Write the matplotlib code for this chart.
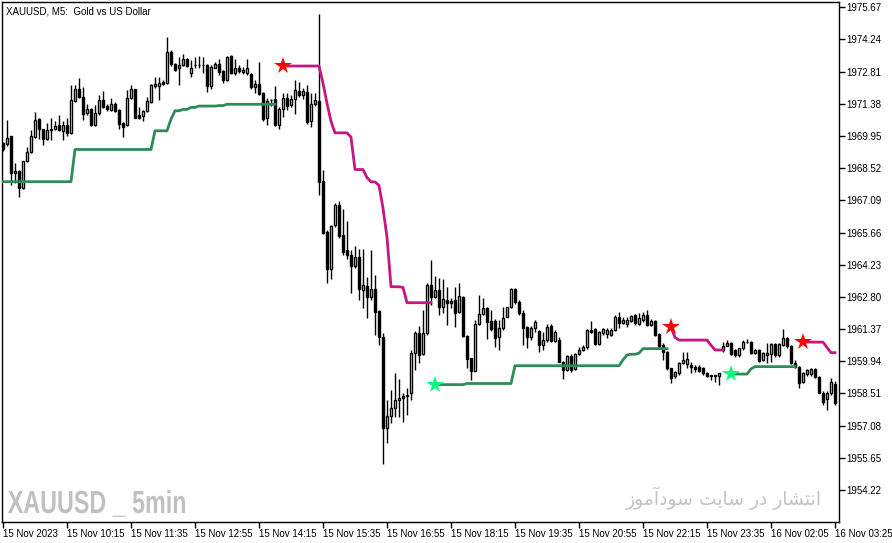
import matplotlib
matplotlib.use("Agg")
import matplotlib.pyplot as plt
import numpy as np
from matplotlib.textpath import TextPath
from matplotlib.patches import PathPatch
from matplotlib.font_manager import FontProperties
from matplotlib.transforms import Affine2D

# candles (5 min bars)
opens = [1969.62, 1969.59, 1969.94, 1968.29, 1968.39, 1967.66, 1968.83, 1969.22, 1969.91, 1970.70,
         1970.24, 1969.80, 1970.21, 1970.28, 1970.43, 1970.18, 1970.46, 1970.09, 1971.51, 1972.03,
         1971.69, 1970.95, 1971.13, 1970.43, 1970.95, 1971.57, 1971.28, 1971.10, 1971.39, 1971.10,
         1970.51, 1970.43, 1971.66, 1972.02, 1970.88, 1970.86, 1971.05, 1971.47, 1972.16, 1972.16,
         1972.36, 1972.31, 1973.69, 1973.14, 1972.95, 1973.10, 1973.35, 1972.73, 1973.10, 1973.10,
         1973.12, 1973.10, 1972.17, 1972.99, 1973.17, 1972.83, 1972.46, 1973.50, 1972.73, 1972.95,
         1972.80, 1972.73, 1972.70, 1972.11, 1972.28, 1971.84, 1970.73, 1971.53, 1971.58, 1970.46,
         1971.17, 1971.62, 1971.32, 1971.58, 1971.96, 1971.77, 1971.91, 1970.63, 1971.35, 1971.51,
         1967.95, 1965.70, 1964.03, 1965.99, 1966.88, 1965.55, 1964.88, 1964.66, 1964.17, 1964.56,
         1963.11, 1963.29, 1962.81, 1963.14, 1962.18, 1961.01, 1956.97, 1957.51, 1957.85, 1958.22,
         1958.30, 1958.40, 1958.55, 1960.30, 1961.21, 1960.25, 1961.18, 1963.33, 1962.81, 1963.10,
         1962.36, 1962.66, 1962.51, 1962.66, 1962.14, 1962.78, 1961.06, 1960.07, 1959.52, 1961.59,
         1962.02, 1962.29, 1961.74, 1961.74, 1961.00, 1961.40, 1961.92, 1962.33, 1963.13, 1962.59,
         1962.10, 1961.45, 1961.00, 1961.40, 1961.30, 1960.66, 1960.88, 1961.52, 1960.84, 1960.89,
         1959.92, 1959.55, 1960.17, 1959.60, 1960.26, 1960.44, 1960.59, 1961.33, 1961.36, 1960.71,
         1961.18, 1961.15, 1961.11, 1961.33, 1961.92, 1961.65, 1961.59, 1961.74, 1961.99, 1961.59,
         1961.77, 1961.99, 1961.55, 1961.74, 1961.15, 1960.66, 1960.37, 1959.62, 1959.28, 1959.40,
         1959.85, 1959.82, 1959.77, 1959.70, 1959.67, 1959.62, 1959.40, 1959.30, 1959.31, 1959.28,
         1960.44, 1960.62, 1960.73, 1960.44, 1960.22, 1960.51, 1960.81, 1960.81, 1960.29, 1960.44,
         1959.99, 1960.22, 1960.26, 1960.71, 1960.22, 1960.66, 1960.96, 1960.62, 1959.85, 1959.70,
         1959.03, 1959.37, 1959.37, 1959.58, 1959.26, 1958.54, 1958.25, 1958.52, 1958.93]
highs = [1969.70, 1970.68, 1969.96, 1968.73, 1968.42, 1968.85, 1969.44, 1970.21, 1971.02, 1970.77,
         1970.28, 1970.51, 1970.77, 1970.62, 1970.90, 1970.62, 1970.73, 1972.21, 1972.21, 1972.53,
         1972.13, 1971.36, 1971.20, 1971.32, 1971.76, 1971.94, 1971.35, 1971.62, 1971.45, 1971.15,
         1970.55, 1971.99, 1972.21, 1972.05, 1971.22, 1971.10, 1971.69, 1972.28, 1972.58, 1972.58,
         1972.45, 1974.35, 1973.76, 1973.20, 1973.47, 1973.58, 1973.40, 1973.32, 1973.47, 1973.50,
         1973.47, 1973.15, 1973.10, 1973.25, 1973.35, 1972.90, 1973.50, 1973.55, 1973.35, 1973.10,
         1973.00, 1973.35, 1972.75, 1972.46, 1973.22, 1971.90, 1971.62, 1971.58, 1972.17, 1971.25,
         1971.84, 1971.87, 1971.77, 1972.46, 1972.36, 1972.10, 1972.21, 1971.84, 1971.84, 1975.36,
         1968.43, 1965.75, 1966.00, 1966.99, 1967.07, 1966.69, 1966.19, 1964.88, 1965.06, 1964.91,
         1964.91, 1963.70, 1964.88, 1963.78, 1962.20, 1961.21, 1958.22, 1958.67, 1959.41, 1959.14,
         1958.52, 1958.74, 1960.44, 1961.30, 1961.51, 1962.22, 1963.40, 1964.44, 1963.73, 1963.62,
         1963.58, 1963.25, 1962.73, 1963.22, 1963.40, 1962.85, 1961.10, 1960.10, 1961.77, 1962.88,
         1962.73, 1962.35, 1962.22, 1961.80, 1961.77, 1962.33, 1962.36, 1963.18, 1963.20, 1962.65,
         1962.22, 1961.50, 1961.50, 1961.77, 1961.35, 1961.25, 1961.60, 1961.60, 1961.35, 1961.00,
         1959.95, 1960.20, 1960.25, 1960.30, 1960.59, 1960.65, 1961.36, 1961.74, 1961.40, 1961.30,
         1961.40, 1961.40, 1961.40, 1961.99, 1962.14, 1961.92, 1961.92, 1962.00, 1962.05, 1962.07,
         1962.14, 1962.20, 1961.80, 1961.77, 1961.20, 1960.76, 1960.40, 1959.65, 1959.50, 1959.92,
         1960.37, 1960.37, 1959.92, 1959.77, 1959.77, 1959.67, 1959.48, 1959.33, 1959.33, 1959.43,
         1960.81, 1960.88, 1960.78, 1960.50, 1960.55, 1960.88, 1960.91, 1960.85, 1960.50, 1960.50,
         1960.35, 1960.73, 1960.73, 1960.75, 1960.75, 1961.36, 1961.00, 1960.65, 1960.00, 1959.75,
         1959.48, 1959.60, 1959.62, 1959.65, 1959.30, 1958.60, 1958.60, 1959.18, 1959.05]
lows = [1969.30, 1969.50, 1967.77, 1967.84, 1967.25, 1967.58, 1968.80, 1969.20, 1969.88, 1969.81,
        1969.55, 1969.75, 1969.77, 1970.20, 1970.15, 1969.77, 1969.94, 1970.05, 1971.45, 1971.65,
        1970.65, 1970.90, 1970.40, 1970.38, 1970.90, 1971.20, 1971.05, 1971.05, 1971.00, 1970.25,
        1969.91, 1970.38, 1971.60, 1970.75, 1970.70, 1970.60, 1971.00, 1971.40, 1972.10, 1971.54,
        1972.20, 1972.28, 1973.05, 1972.85, 1972.21, 1973.05, 1973.00, 1972.58, 1972.95, 1972.95,
        1972.73, 1971.91, 1972.06, 1972.95, 1972.65, 1972.31, 1972.40, 1972.70, 1972.65, 1972.75,
        1972.70, 1972.65, 1972.05, 1971.87, 1971.75, 1970.60, 1970.43, 1971.30, 1970.40, 1970.28,
        1970.80, 1971.10, 1971.25, 1970.92, 1971.70, 1971.60, 1970.50, 1970.36, 1971.30, 1967.33,
        1965.60, 1963.43, 1963.58, 1965.90, 1965.40, 1964.66, 1964.50, 1962.99, 1964.10, 1962.66,
        1962.29, 1961.85, 1962.66, 1961.11, 1960.67, 1955.38, 1956.30, 1957.19, 1957.48, 1957.48,
        1957.26, 1957.56, 1958.22, 1959.56, 1959.85, 1960.20, 1961.10, 1962.44, 1962.75, 1961.99,
        1962.07, 1961.55, 1962.30, 1961.48, 1962.10, 1961.00, 1959.63, 1959.11, 1959.50, 1961.55,
        1962.00, 1960.91, 1961.30, 1960.59, 1960.44, 1961.35, 1961.90, 1962.30, 1962.50, 1962.00,
        1960.66, 1960.51, 1960.90, 1961.25, 1960.37, 1960.44, 1960.80, 1960.80, 1960.80, 1959.90,
        1959.14, 1959.50, 1959.45, 1959.55, 1960.20, 1960.40, 1960.50, 1961.20, 1960.65, 1960.65,
        1961.10, 1960.96, 1961.05, 1961.30, 1961.40, 1961.60, 1961.47, 1961.70, 1961.55, 1961.55,
        1961.70, 1961.50, 1961.50, 1961.05, 1960.55, 1959.99, 1959.55, 1958.96, 1959.18, 1959.35,
        1959.80, 1959.62, 1959.40, 1959.48, 1959.45, 1959.35, 1959.26, 1959.11, 1959.03, 1958.89,
        1960.37, 1960.60, 1960.20, 1960.15, 1960.15, 1960.45, 1960.75, 1960.25, 1960.25, 1959.90,
        1959.95, 1959.85, 1959.92, 1960.15, 1960.15, 1960.60, 1960.55, 1959.80, 1959.65, 1958.74,
        1958.98, 1959.30, 1959.30, 1959.20, 1958.52, 1957.99, 1957.77, 1958.45, 1958.00]
closes = [1969.35, 1969.88, 1968.29, 1968.39, 1967.66, 1968.83, 1969.22, 1969.97, 1970.68, 1970.24,
          1969.80, 1970.21, 1970.28, 1970.39, 1970.21, 1970.46, 1970.09, 1971.54, 1972.03, 1971.69,
          1970.91, 1971.13, 1970.43, 1970.95, 1971.54, 1971.25, 1971.13, 1971.39, 1971.07, 1970.48,
          1970.36, 1971.66, 1972.02, 1970.77, 1970.77, 1971.05, 1971.50, 1972.21, 1972.28, 1972.31,
          1972.28, 1973.69, 1973.13, 1972.90, 1973.10, 1973.35, 1973.05, 1972.99, 1973.12, 1973.10,
          1973.10, 1972.16, 1973.03, 1973.17, 1972.80, 1972.43, 1973.44, 1972.73, 1972.95, 1972.83,
          1972.90, 1972.95, 1972.11, 1972.28, 1971.81, 1970.69, 1971.51, 1971.55, 1970.43, 1971.17,
          1971.62, 1971.28, 1971.58, 1971.99, 1971.77, 1971.96, 1970.58, 1971.35, 1971.54, 1967.92,
          1965.65, 1964.03, 1965.95, 1966.88, 1965.50, 1964.81, 1964.66, 1964.17, 1964.56, 1963.14,
          1963.33, 1962.81, 1963.14, 1962.15, 1961.01, 1956.97, 1957.51, 1957.85, 1958.22, 1958.30,
          1958.40, 1958.45, 1960.30, 1961.21, 1960.22, 1961.18, 1963.33, 1962.81, 1963.10, 1962.36,
          1962.69, 1962.51, 1962.63, 1962.10, 1962.84, 1961.06, 1960.03, 1959.52, 1961.59, 1962.02,
          1962.29, 1961.70, 1961.36, 1960.96, 1961.40, 1961.85, 1962.33, 1963.13, 1962.59, 1962.10,
          1961.40, 1961.00, 1961.40, 1961.70, 1960.66, 1960.88, 1961.48, 1960.84, 1961.23, 1959.92,
          1959.55, 1960.17, 1959.55, 1960.26, 1960.44, 1960.59, 1961.33, 1961.25, 1960.71, 1961.25,
          1961.36, 1961.33, 1961.33, 1961.92, 1961.62, 1961.77, 1961.77, 1961.95, 1961.62, 1961.85,
          1962.01, 1961.55, 1961.74, 1961.10, 1960.62, 1960.37, 1959.62, 1959.18, 1959.48, 1959.88,
          1959.99, 1960.02, 1959.70, 1959.58, 1959.52, 1959.40, 1959.30, 1959.31, 1959.30, 1959.40,
          1960.62, 1960.76, 1960.25, 1960.22, 1960.51, 1960.81, 1960.80, 1960.29, 1960.44, 1959.97,
          1960.29, 1960.32, 1960.71, 1960.22, 1960.71, 1960.96, 1960.62, 1959.85, 1959.70, 1958.99,
          1959.40, 1959.55, 1959.58, 1959.26, 1958.54, 1958.14, 1958.54, 1959.03, 1958.10]

N = None
# trailing stop lines (None where the line is not drawn)
support_line = ([1967.92] * 18 + [1969.35] * 20 + [1970.18] * 4 + [1970.70] + [1971.07] * 2
                + [1971.13] * 2 + [1971.22] * 2 + [1971.28] * 5 + [1971.30] * 2 + [1971.36] * 13
                + [N] * 39
                + [1958.90] * 8 + [1958.95] * 12 + [1959.74] * 27 + [1960.00, 1960.22, 1960.25, 1960.25, 1960.30]
                + [1960.50] * 7
                + [N] * 15
                + [1959.37] * 5 + [1959.60] + [1959.70] * 11
                + [N] * 10)
resist_line = ([N] * 70
               + [1973.06] * 10 + [1972.30, 1971.40, 1970.60] + [1970.09] * 4 + [1969.90]
               + [1968.46] * 3 + [1968.10, 1967.91, 1967.91, 1967.75, 1966.75, 1965.45]
               + [1963.25] * 3 + [1963.22] + [1962.54] * 7
               + [N] * 59
               + [1961.45, 1961.00] + [1960.88] * 8 + [1960.65] + [1960.44] * 3
               + [N] * 19
               + [1960.79] * 6 + [1960.55, 1960.32, 1960.32])

sell_bars = [70, 167, 200]
sell_prices = [1973.05, 1961.46, 1960.79]
buy_bars = [108, 182]
buy_prices = [1958.88, 1959.37]

price_ticks = [1975.67, 1974.24, 1972.81, 1971.38, 1969.95, 1968.52, 1967.09, 1965.66,
               1964.23, 1962.80, 1961.37, 1959.94, 1958.51, 1957.08, 1955.65, 1954.22]
time_ticks = [0, 16, 32, 48, 64, 80, 96, 112, 128, 144, 160, 176, 192, 208]
time_labels = ['15 Nov 2023', '15 Nov 10:15', '15 Nov 11:35', '15 Nov 12:55', '15 Nov 14:15',
               '15 Nov 15:35', '15 Nov 16:55', '15 Nov 18:15', '15 Nov 19:35', '15 Nov 20:55',
               '15 Nov 22:15', '15 Nov 23:35', '16 Nov 02:05', '16 Nov 03:25']

plt.rcParams['font.family'] = ['Liberation Sans', 'DejaVu Sans']

W, H = 892, 543
fig = plt.figure(figsize=(W / 100, H / 100), dpi=100)
ax = fig.add_axes([2 / W, 1 - 522 / H, 837 / W, 520 / H])

o = np.array(opens)
c = np.array(closes)
hi = np.array(highs)
lo = np.array(lows)
x = np.arange(len(o))

# wicks
ax.vlines(x, lo, hi, color='black', linewidth=1, zorder=2)
# bodies
up = c >= o
bottom = np.minimum(o, c)
height = np.maximum(np.abs(c - o), 0.015)
ax.bar(x, height, bottom=bottom, width=0.5, color=np.where(up, 'white', 'black'),
       edgecolor='black', linewidth=1, zorder=3)

sup = np.array([np.nan if v is None else v for v in support_line])
res = np.array([np.nan if v is None else v for v in resist_line])
ax.plot(x, sup, color='#2e8b57', linewidth=2, zorder=4)
ax.plot(x, res, color='#c71585', linewidth=2, zorder=4)

ax.plot(sell_bars, sell_prices, linestyle='none', marker='*', markersize=13,
        color='#ff0000', markeredgewidth=0, zorder=5)
ax.plot(buy_bars, buy_prices, linestyle='none', marker='*', markersize=13,
        color='#00ff7f', markeredgewidth=0, zorder=5)

ax.set_xlim(-0.25, 209)
ax.set_ylim(1952.795, 1975.905)

ax.yaxis.tick_right()
ax.set_yticks(price_ticks)
ax.set_yticklabels(['%.2f' % p for p in price_ticks])
ax.tick_params(axis='y', direction='out', length=4, width=1, labelsize=7, pad=1)
ax.set_xticks(time_ticks)
ax.set_xticklabels(time_labels, ha='left')
ax.tick_params(axis='x', direction='out', length=4, width=1, labelsize=7, pad=1)
for s in ax.spines.values():
    s.set_color('black')
    s.set_linewidth(1)

ax.text(0.005, 0.992, 'XAUUSD, M5:  Gold vs US Dollar', transform=ax.transAxes,
        fontsize=7, va='top', ha='left', color='black')

# watermark drawn as a path, squeezed to a narrow bold face
wm = TextPath((0, 0), 'XAUUSD _ 5min', size=100,
              prop=FontProperties(family='Liberation Sans', weight='bold'))
ext = wm.get_extents()
sx = 177 / ext.width
sy = 23 / 72.0
tr = (Affine2D().translate(-ext.x0, 0).scale(sx, sy)
      .translate(8, H - 513) + matplotlib.transforms.IdentityTransform())
fig.patches.append(PathPatch(wm, transform=tr, facecolor='#c0c0c0', edgecolor='none',
                             figure=fig))

fa_text = ('\uFEAF\uFEEE\uFEE3\uFE81\uFEA9\uFEEE\uFEB3 \uFE96\uFEF3\uFE8E\uFEB3 '
           '\uFEAD\uFEA9 \uFEAD\uFE8E\uFEB8\uFE98\uFEE7\uFE8D')
fig.text(822 / W, 1 - 505 / H, fa_text, fontsize=13.5, color='#c4c4c4',
         family=['DejaVu Sans'], ha='right', va='baseline')

fig.savefig('out.png', dpi=100)
